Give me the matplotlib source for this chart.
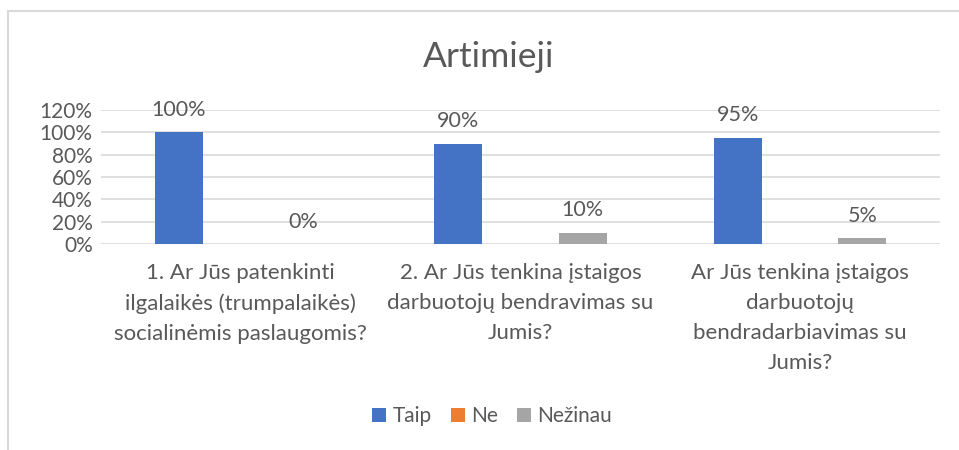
import matplotlib.pyplot as plt
from matplotlib.patches import Rectangle
from matplotlib.ticker import PercentFormatter
import numpy as np

plt.rcParams['font.family'] = ['Lato', 'DejaVu Sans']

categories = [
    "1. Ar Jūs patenkinti\nilgalaikės (trumpalaikės)\nsocialinėmis paslaugomis?",
    "2. Ar Jūs tenkina įstaigos\ndarbuotojų bendravimas su\nJumis?",
    "Ar Jūs tenkina įstaigos\ndarbuotojų\nbendradarbiavimas su\nJumis?",
]
series_names = ['Taip', 'Ne', 'Nežinau']
taip = [1.00, 0.90, 0.95]
ne = [0.0, 0.0, 0.0]
nezinau = [0.00, 0.10, 0.05]
y_ticks = [0, 0.2, 0.4, 0.6, 0.8, 1.0, 1.2]

colors = ['#4472C4', '#ED7D31', '#A5A5A5']
txt = '#595959'

fig = plt.figure(figsize=(9.59, 4.5), dpi=100)
fig.patches.append(Rectangle((8 / 959, -0.1), 1.1, (450 - 11) / 450 + 0.1,
                             transform=fig.transFigure, fill=False,
                             edgecolor='#D9D9D9', linewidth=1.5))

ax = fig.add_axes([101 / 959, 206 / 450, 839 / 959, 134 / 450])
x = np.arange(len(categories))
off = 0.222
w = 0.172
values = [taip, ne, nezinau]
bars = []
for i, (name, vals) in enumerate(zip(series_names, values)):
    b = ax.bar(x + (i - 1) * off, vals, w, color=colors[i], label=name, zorder=3)
    bars.append(b)

# Ne series has no data labels in the original
for b, vals in ((bars[0], taip), (bars[2], nezinau)):
    for rect, v in zip(b, vals):
        ax.annotate(f'{v:.0%}', (rect.get_x() + rect.get_width() / 2, v),
                    xytext=(0, 9), textcoords='offset points',
                    ha='center', va='bottom', fontsize=15.5, color=txt)

ax.set_xlim(-0.5, 2.5)
ax.set_ylim(0, 1.2)
ax.set_yticks(y_ticks)
ax.yaxis.set_major_formatter(PercentFormatter(1.0, decimals=0))
ax.grid(axis='y', color='#D9D9D9', linewidth=1.2, zorder=0)
ax.set_xticks(x)
ax.set_xticklabels(categories, fontsize=16, color=txt, linespacing=1.62, va='top')
ax.tick_params(axis='x', length=0, pad=14)
ax.tick_params(axis='y', length=0, pad=6, labelsize=15, labelcolor=txt)
for s in ax.spines.values():
    s.set_visible(False)

fig.text(489 / 959, 1 - 57 / 450, 'Artimieji', ha='center', va='center',
         fontsize=25.5, color=txt)

fig.legend(loc='center', bbox_to_anchor=(492 / 959, 1 - 416 / 450), ncol=3,
           frameon=False, fontsize=15, labelcolor=txt, handlelength=0.68,
           handleheight=0.68, handletextpad=0.3, columnspacing=0.9)

fig.savefig('out.png', dpi=100)
